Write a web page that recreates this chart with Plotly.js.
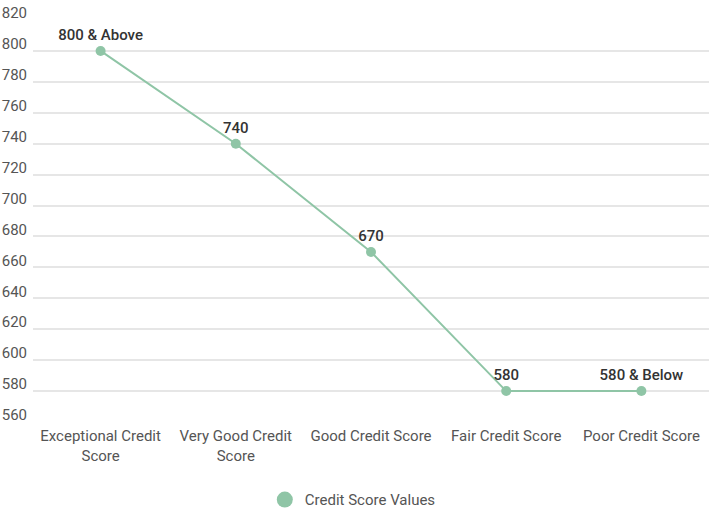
<!DOCTYPE html>
<html>
<head>
<meta charset="utf-8">
<script src="https://cdn.plot.ly/plotly-3.0.1.min.js"></script>
<style>
  html, body { margin: 0; padding: 0; background: #fff; }
  #chart { width: 720px; height: 518px; }
</style>
</head>
<body>
<div id="chart"></div>
<script>
// credit score tiers
let categories = ["Exceptional Credit<br>Score", "Very Good Credit<br>Score", "Good Credit Score", "Fair Credit Score", "Poor Credit Score"];
let scoreValues = [800, 740, 670, 580, 580];
let pointLabels = ["800 & Above", "740", "670", "580", "580 & Below"];
let yTicks = [560, 580, 600, 620, 640, 660, 680, 700, 720, 740, 760, 780, 800, 820];
let seriesName = "Credit Score Values";

let green = "#8fc5a6";

let data = [];
data.push({
    x: categories,
    y: scoreValues,
    text: pointLabels,
    type: "scatter",
    mode: "lines+markers+text",
    textposition: "top center",
    textfont: { family: "Roboto, sans-serif", size: 15, color: "#333333", weight: 500 },
    line: { color: green, width: 2 },
    marker: { color: green, size: 10 },
    cliponaxis: false,
    showlegend: false,
    hoverinfo: "x+y"
});
// legend entry only: big dot, no line
data.push({
    x: [categories[0]],
    y: [null],
    type: "scatter",
    mode: "markers",
    name: seriesName,
    marker: { color: green, size: 16 },
    showlegend: true
});

let layout = {
    width: 720,
    height: 518,
    margin: { l: 33, r: 11, t: 20, b: 96 },
    paper_bgcolor: "#ffffff",
    plot_bgcolor: "#ffffff",
    font: { family: "Roboto, sans-serif", color: "#555555" },
    showlegend: true,
    legend: {
        orientation: "h",
        xref: "container",
        x: 0.49,
        xanchor: "center",
        yref: "container",
        y: 0.035,
        yanchor: "middle",
        font: { size: 15, color: "#555555" }
    },
    xaxis: {
        type: "category",
        range: [-0.5, 4.5],
        showgrid: false,
        zeroline: false,
        showline: false,
        ticks: "",
        ticklabelstandoff: 3,
        tickfont: { size: 15, color: "#555555" }
    },
    yaxis: {
        range: [560, 820],
        tickvals: yTicks,
        showgrid: true,
        gridcolor: "#e6e6e6",
        gridwidth: 2,
        zeroline: false,
        showline: false,
        ticks: "",
        ticklabelshift: -7,
        ticklabelstandoff: 5,
        tickfont: { size: 15, color: "#555555" }
    }
};

Plotly.newPlot("chart", data, layout, { displayModeBar: false, staticPlot: true });
</script>
</body>
</html>
